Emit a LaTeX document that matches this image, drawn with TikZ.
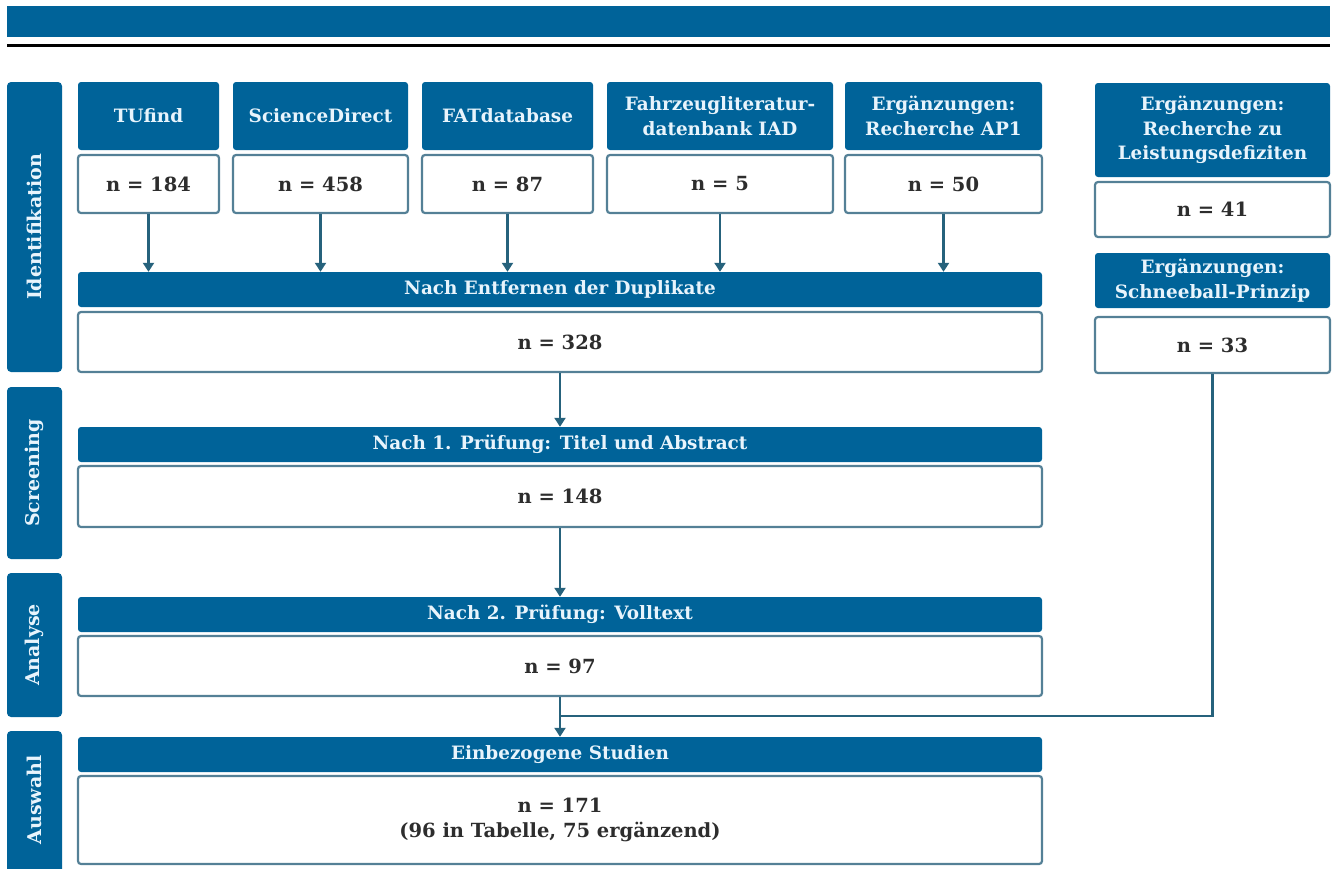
\documentclass[tikz,border=0pt]{standalone}
\usepackage{fontspec}
\setmainfont{DejaVu Serif}
\usetikzlibrary{arrows.meta}
\definecolor{tublue}{RGB}{0,99,153}
\definecolor{boxline}{RGB}{84,128,150}
\definecolor{arrowc}{RGB}{38,98,124}
\definecolor{hdrtext}{RGB}{232,244,252}
\definecolor{bodytext}{RGB}{45,45,45}
\tikzset{
  hdr/.style={fill=tublue, draw=none, rounded corners=3pt, text=hdrtext,
    font=\bfseries\fontsize{18.4}{24.5}\selectfont, align=center, inner sep=0pt},
  wbox/.style={fill=white, draw=boxline, line width=2.2pt, rounded corners=3pt,
    text=bodytext, font=\bfseries\fontsize{19.5}{25}\selectfont, align=center, inner sep=0pt},
  phase/.style={fill=tublue, draw=none, rounded corners=4pt, inner sep=0pt},
  phasetext/.style={rotate=90, text=hdrtext, font=\bfseries\fontsize{19}{22}\selectfont, inner sep=0pt},
  arr/.style={draw=arrowc, line width=2.2pt, -{Triangle[width=11pt,length=9pt]}},
  conn/.style={draw=arrowc, line width=2.2pt},
}
\begin{document}
\begin{tikzpicture}[x=1pt,y=-1pt]
\useasboundingbox (0,0) rectangle (1338,868);
% title bar and rule
\fill[tublue] (7,6) rectangle (1330,37);
\draw[line width=3pt, black] (7,45.5) -- (1330,45.5);

% phase labels
\node[phase, minimum width=55pt, minimum height=290pt] (p1) at (34.5,227) {};
\node[phasetext] (p1t) at (34.5,227) {Identifikation};
\node[phase, minimum width=55pt, minimum height=172pt] (p2) at (34.5,473) {};
\node[phasetext] (p2t) at (34.5,473) {Screening};
\node[phase, minimum width=55pt, minimum height=144pt] (p3) at (34.5,645) {};
\node[phasetext] (p3t) at (34.5,645) {Analyse};
\node[phase, minimum width=55pt, minimum height=149pt] (p4) at (34.5,805.5) {};
\node[phasetext] (p4t) at (34.5,800) {Auswahl};

% source boxes
\node[hdr, minimum width=141pt, minimum height=68pt] (h1) at (148.5,116) {TUfind};
\node[wbox, minimum width=141pt, minimum height=58pt] (w1) at (148.5,184) {n = 184};
\node[hdr, minimum width=175pt, minimum height=68pt] (h2) at (320.5,116) {ScienceDirect};
\node[wbox, minimum width=175pt, minimum height=58pt] (w2) at (320.5,184) {n = 458};
\node[hdr, minimum width=171pt, minimum height=68pt] (h3) at (507.5,116) {FATdatabase};
\node[wbox, minimum width=171pt, minimum height=58pt] (w3) at (507.5,184) {n = 87};
\node[hdr, minimum width=226pt, minimum height=68pt] (h4) at (720,116) {Fahrzeugliteratur-\\datenbank IAD};
\node[wbox, minimum width=226pt, minimum height=58pt] (w4) at (720,184) {n = 5};
\node[hdr, minimum width=197pt, minimum height=68pt] (h5) at (943.5,116) {Ergänzungen:\\Recherche AP1};
\node[wbox, minimum width=197pt, minimum height=58pt] (w5) at (943.5,184) {n = 50};

% right boxes
\node[hdr, minimum width=235pt, minimum height=94pt] (r1h) at (1212.5,130) {Ergänzungen:\\Recherche zu\\Leistungsdefiziten};
\node[wbox, minimum width=235pt, minimum height=55pt] (r1w) at (1212.5,209.5) {n = 41};
\node[hdr, minimum width=235pt, minimum height=55pt] (r2h) at (1212.5,280.5) {Ergänzungen:\\Schneeball-Prinzip};
\node[wbox, minimum width=235pt, minimum height=56pt] (r2w) at (1212.5,345) {n = 33};

% main column
\node[hdr, minimum width=964pt, minimum height=35pt] (eh) at (560,289.5) {Nach Entfernen der Duplikate};
\node[wbox, minimum width=964pt, minimum height=60pt] (ew) at (560,342) {n = 328};
\node[hdr, minimum width=964pt, minimum height=35pt] (sh) at (560,444.5) {Nach 1. Prüfung: Titel und Abstract};
\node[wbox, minimum width=964pt, minimum height=61pt] (sw) at (560,496.5) {n = 148};
\node[hdr, minimum width=964pt, minimum height=35pt] (ah) at (560,614.5) {Nach 2. Prüfung: Volltext};
\node[wbox, minimum width=964pt, minimum height=60pt] (aw) at (560,666) {n = 97};
\node[hdr, minimum width=964pt, minimum height=35pt] (bh) at (560,754.5) {Einbezogene Studien};
\node[wbox, minimum width=964pt, minimum height=88pt] (bw) at (560,820) {n = 171\\(96 in Tabelle, 75 ergänzend)};

% connectors
\foreach \s in {w1,w2,w3,w4,w5}
  \draw[arr] (\s.south) -- (\s.south |- eh.north);
\draw[arr] (ew.south) -- (sh.north);
\draw[arr] (sw.south) -- (ah.north);
\coordinate (j) at (aw.south |- 0,716);
\draw[arr] (aw.south) -- (bh.north);
\draw[conn] (r2w.south) |- (j);
\end{tikzpicture}
\end{document}
